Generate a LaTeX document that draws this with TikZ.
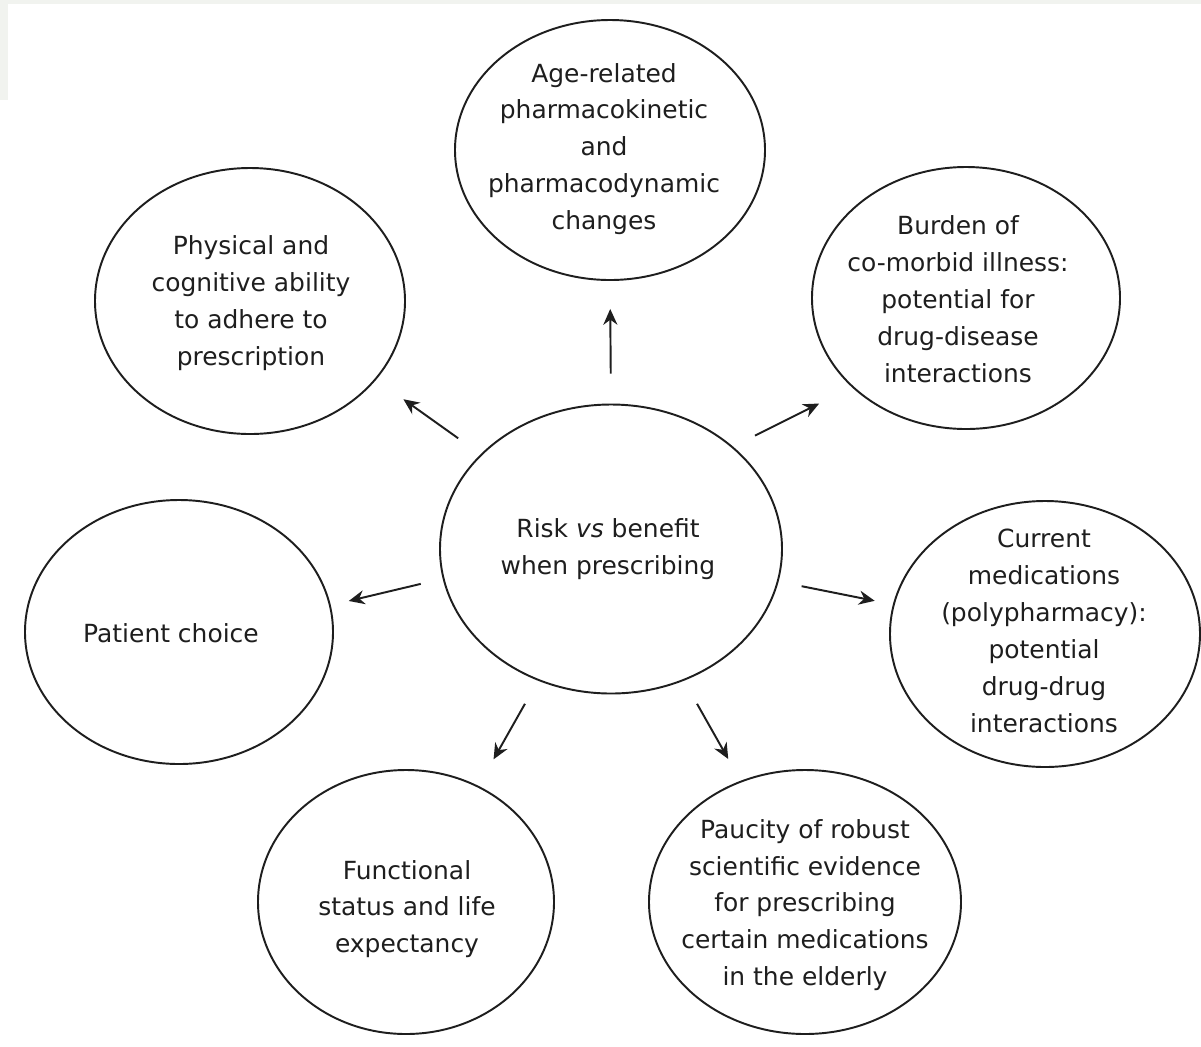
\documentclass[tikz,border=0pt]{standalone}
\usepackage{fontspec}
\setmainfont{DejaVu Sans}
\usetikzlibrary{shapes.geometric,arrows.meta}
\definecolor{ink}{HTML}{1E1E1E}
\definecolor{edge}{HTML}{F1F3EF}
\begin{document}
\begin{tikzpicture}[x=0.02cm,y=-0.02cm,
  bub/.style={draw=ink, line width=1.1pt, ellipse, inner sep=0pt, fill=white},
  txt/.style={align=center, text=ink, inner sep=0pt, font=\fontsize{14.2pt}{21pt}\selectfont},
  arr/.style={draw=ink, line width=1.1pt, -{Stealth[length=9pt,width=8pt]}}]
\useasboundingbox (0,0) rectangle (1201,1046);
\fill[white] (0,0) rectangle (1201,1046);
\fill[edge] (0,0) rectangle (1201,4);
\fill[edge] (0,0) rectangle (8,100);
% ellipses
\node[bub, minimum width=342*0.02cm, minimum height=289*0.02cm] (c) at (611,549) {};
\node[bub, minimum width=310*0.02cm, minimum height=260*0.02cm] (t) at (610,150) {};
\node[bub, minimum width=310*0.02cm, minimum height=266*0.02cm] (tl) at (250,301) {};
\node[bub, minimum width=308*0.02cm, minimum height=262*0.02cm] (tr) at (966,298) {};
\node[bub, minimum width=308*0.02cm, minimum height=264*0.02cm] (l) at (179,632) {};
\node[bub, minimum width=310*0.02cm, minimum height=266*0.02cm] (r) at (1045,634) {};
\node[bub, minimum width=296*0.02cm, minimum height=264*0.02cm] (bl) at (406,902) {};
\node[bub, minimum width=312*0.02cm, minimum height=264*0.02cm] (br) at (805,902) {};
% texts
\node[txt] (ct) at (608,549) {Risk \textit{vs} benefit\\when prescribing};
\node[txt] (tt) at (604,149) {Age-related\\pharmacokinetic\\and\\pharmacodynamic\\changes};
\node[txt] (tlt) at (251,303) {Physical and\\cognitive ability\\to adhere to\\prescription};
\node[txt] (trt) at (958,299) {Burden of\\co-morbid illness:\\potential for\\drug-disease\\interactions};
\node[txt] (lt) at (171,633) {Patient choice};
\node[txt] (rt) at (1044,631) {Current\\medications\\(polypharmacy):\\potential\\drug-drug\\interactions};
\node[txt] (blt) at (407,909) {Functional\\status and life\\expectancy};
\node[txt] (brt) at (805,905) {Paucity of robust\\scientific evidence\\for prescribing\\certain medications\\in the elderly};
% arrows
\draw[arr, shorten <=0.60cm, shorten >=0.56cm] (c.90) -- (t.270);
\draw[arr, shorten <=0.55cm, shorten >=0.67cm] (c.144.5) -- (tl.-32.8);
\draw[arr, shorten <=0.49cm, shorten >=0.73cm] (c.40) -- (tr.218);
\draw[arr, shorten <=0.45cm, shorten >=0.37cm] (c.190.8) -- (l.10.4);
\draw[arr, shorten <=0.47cm, shorten >=0.37cm] (c.-11.7) -- (r.169.7);
\draw[arr, shorten <=0.53cm, shorten >=0.61cm] (c.241.4) -- (bl.58.8);
\draw[arr, shorten <=0.53cm, shorten >=0.50cm] (c.-61.4) -- (br.118.2);
\end{tikzpicture}
\end{document}
